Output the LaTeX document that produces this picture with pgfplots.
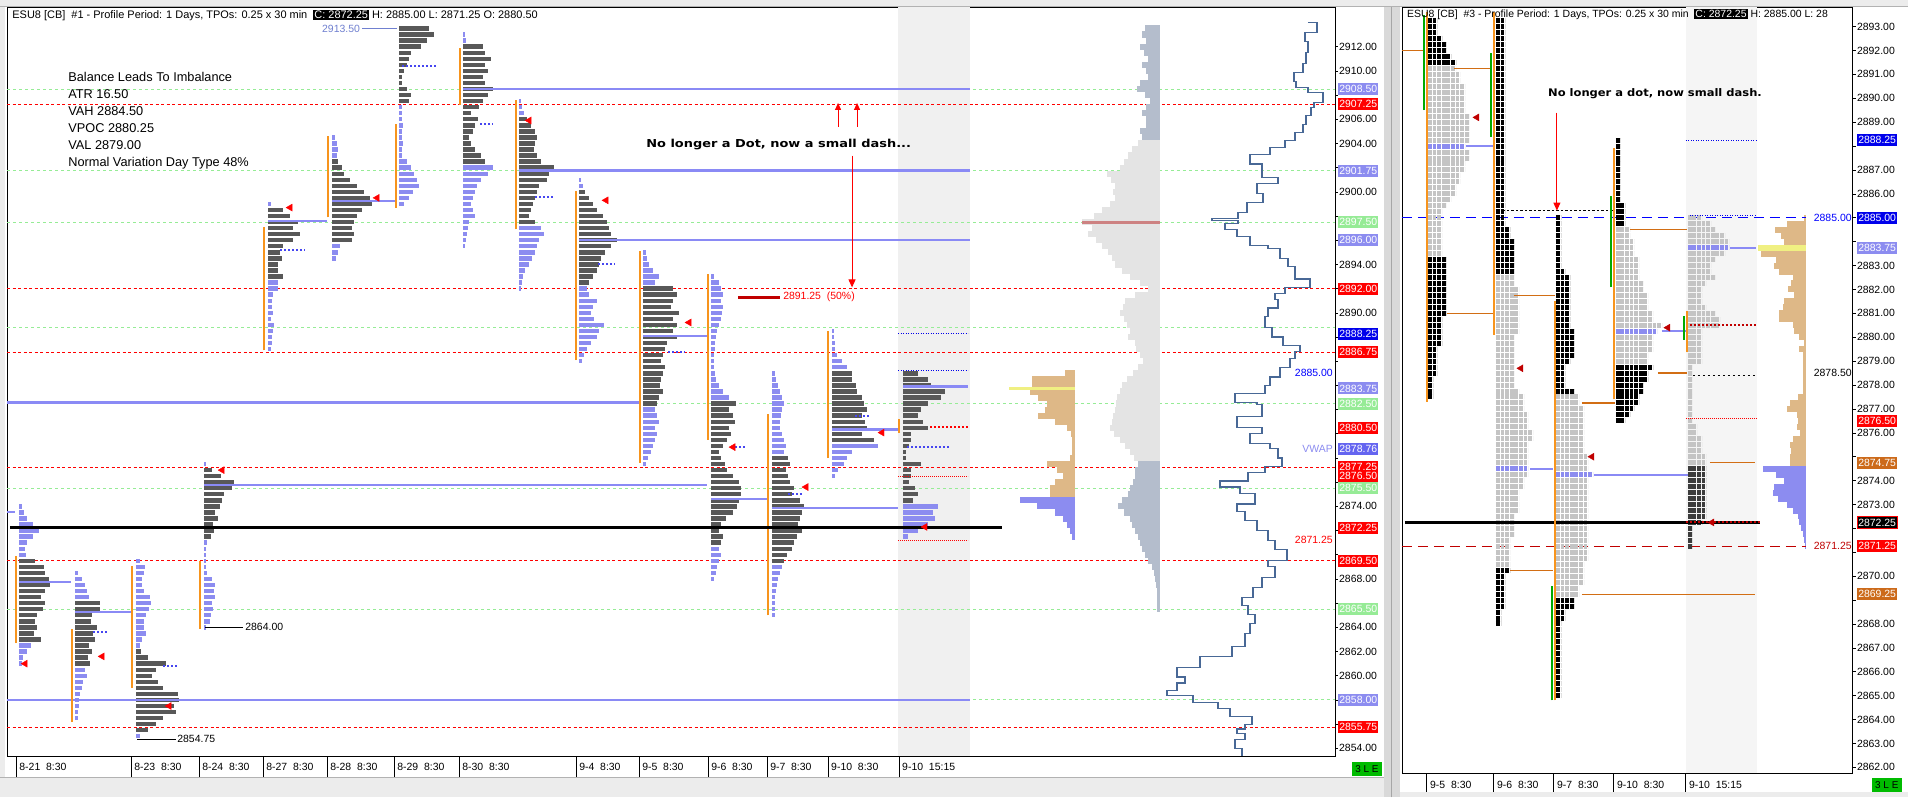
\documentclass[border=0pt]{standalone}
\usepackage{fontspec}
\setmainfont{Liberation Sans}
\newfontfamily\dvs{DejaVu Sans}
\usepackage{pgfplots}
\pgfplotsset{compat=1.18}
\usetikzlibrary{arrows.meta}

\definecolor{pgray}{RGB}{88,88,88}
\definecolor{pblue}{RGB}{140,140,240}
\definecolor{pocb}{RGB}{138,138,245}
\definecolor{dotb}{RGB}{70,70,240}
\definecolor{ibor}{RGB}{247,148,29}
\definecolor{lgreen}{RGB}{150,236,150}
\definecolor{band}{RGB}{240,240,240}
\definecolor{bandr}{RGB}{245,245,245}
\definecolor{compl}{RGB}{228,228,228}
\definecolor{compd}{RGB}{180,189,204}
\definecolor{ctan}{RGB}{222,184,135}
\definecolor{yel}{RGB}{240,240,130}
\definecolor{vwap}{RGB}{72,104,150}
\definecolor{dblue}{RGB}{0,0,235}
\definecolor{vwbox}{RGB}{100,100,240}
\definecolor{gbox}{RGB}{150,235,150}
\definecolor{brbox}{RGB}{204,106,26}
\definecolor{dred}{RGB}{192,0,0}
\definecolor{orl}{RGB}{210,110,20}
\definecolor{gbar}{RGB}{0,170,0}
\definecolor{win}{RGB}{236,236,236}
\definecolor{lbl}{RGB}{112,128,208}
\definecolor{compr}{RGB}{205,130,130}

\newcommand{\tl}{\fontsize{10.5}{12}\selectfont}
\newcommand{\hl}[4]{\addplot[#1] coordinates {(#2,#4) (#3,#4)};}
\newcommand{\vl}[4]{\addplot[#1] coordinates {(#2,#3) (#2,#4)};}
\newcommand{\lxt}[2]{\draw[black,line width=1bp] (axis cs:#1,2853.34) -- (axis cs:#1,2851.6);
  \node[anchor=west,font=\tl,inner sep=0pt,xshift=3bp] at (axis cs:#1,2852.43) {#2};}
\newcommand{\rxt}[2]{\draw[black,line width=1bp] (axis cs:#1,2861.75) -- (axis cs:#1,2860.95);
  \node[anchor=west,font=\tl,inner sep=0pt,xshift=3bp] at (axis cs:#1,2861.25) {#2};}

\tikzset{lbox/.style={anchor=west,inner xsep=1.2bp,inner ysep=0bp,minimum height=12bp,text=white,font=\tl}}

\pgfplotsset{
  lprof/.style={quiver={u=\thisrow{u},v=0,colored=mapped color,
      every arrow/.append style={line width=4.4bp}},
    point meta=\thisrow{c},point meta min=0,point meta max=1},
  rprof/.style={quiver={u=4.6*\thisrow{n},v=0,colored=mapped color,
      every arrow/.append style={line width=5bp,dash pattern=on 3.8bp off 0.8bp}},
    point meta=\thisrow{c},point meta min=0,point meta max=3},
  histL/.style={quiver={u=-\thisrow{w},v=0,
      every arrow/.append style={draw=#1,line width=6.2bp}}},
  histR/.style={quiver={u=-\thisrow{w},v=0,
      every arrow/.append style={draw=#1,line width=6.05bp}}},
  rdash/.style={red,line width=1bp,dash pattern=on 3bp off 2.5bp},
  gdash/.style={lgreen,line width=1bp,dash pattern=on 3bp off 3bp},
  poc/.style={pocb,line width=2.4bp},
  dotl/.style={dotb,line width=2bp,dash pattern=on 2bp off 2bp},
  ib/.style={ibor,line width=2.2bp},
}

\begin{document}
\begin{tikzpicture}[x=1bp,y=1bp]
\fill[win] (0,0) rectangle (1908,797);
\fill[white] (5,20) rectangle (1384,791);
\fill[white] (1400,5) rectangle (1908,791);
\fill[gray!30] (1384,0) rectangle (1400,797);
\draw[gray!70,line width=1bp] (1392,0) -- (1392,797);
\draw[gray!60] (0,20) -- (1384,20);
\node[fill=gbar!80!green,font=\fontsize{10}{12}\selectfont,inner sep=1.5bp,minimum width=30bp,minimum height=14bp] at (1367,28) {3 L E};
\node[fill=gbar!80!green,font=\fontsize{10}{12}\selectfont,inner sep=1.5bp,minimum width=30bp,minimum height=14bp] at (1887,12) {3 L E};

% ================= LEFT PANEL =================
\begin{axis}[
  at={(7bp,41bp)},anchor=south west,scale only axis,
  width=1328bp,height=749bp,
  xmin=7,xmax=1335,ymin=2853.34,ymax=2915.24,
  clip=false,
  axis line style={black,line width=0.8bp},
  xtick=\empty,
  ytick={2854,2856,...,2912},
  yticklabels={2854.00,,,2860.00,2862.00,2864.00,,2868.00,,,2874.00,,,,,,,,2890.00,,2894.00,,,2900.00,,2904.00,2906.00,,2910.00,2912.00},
  ytick pos=right,yticklabel pos=right,
  tick align=outside,major tick length=3bp,
  tick style={black,line width=0.6bp},
  yticklabel style={font=\tl,anchor=west,inner sep=1bp},
  colormap={lp}{rgb255=(88,88,88) rgb255=(140,140,240)},
]
\addplot[fill=band,draw=none] coordinates {(898,2853.34) (970,2853.34) (970,2915.24) (898,2915.24)} -- cycle;

% reference levels
\hl{rdash}{7}{1335}{2907.25}
\hl{rdash}{7}{1335}{2892}
\hl{rdash}{7}{1335}{2886.75}
\hl{rdash}{7}{1335}{2877.25}
\hl{rdash}{7}{1335}{2869.5}
\hl{rdash}{7}{1335}{2855.75}
\hl{gdash}{7}{1335}{2908.5}
\hl{gdash}{7}{1335}{2901.75}
\hl{gdash}{7}{1335}{2897.5}
\hl{gdash}{7}{1335}{2888.75}
\hl{gdash}{7}{1335}{2882.5}
\hl{gdash}{7}{1335}{2875.5}
\hl{gdash}{7}{1335}{2865.5}
\hl{gdash}{7}{1335}{2858}

% composite volume profile
\addplot[histL=compd] table[x expr=1160,y=p] {
p w
2913.5 15
2913 18
2912.5 14
2912 20
2911.5 16
2911 12
2910.5 18
2910 14
2909.5 12
2909 20
2908.5 23
2908 15
2907.5 10
2907 14
2906.5 18
2906 14
2905.5 14
2905 20
2904.5 18
};
\addplot[histL=compl] table[x expr=1160,y=p] {
p w
2904 22
2903.5 28
2903 32
2902.5 36
2902 40
2901.5 53
2901 49
2900.5 45
2900 47
2899.5 45
2899 50
2898.5 58
2898 66
2897.5 78
2897 68
2896.5 72
2896 64
2895.5 58
2895 52
2894.5 48
2894 45
2893.5 38
2893 30
2892.5 20
2892 12
2891.5 25
2891 35
2890.5 37
2890 40
2889.5 36
2889 33
2888.5 30
2888 32
2887.5 25
2887 24
2886.5 20
2886 17
2885.5 22
2885 27
2884.5 33
2884 38
2883.5 40
2883 43
2882.5 44
2882 45
2881.5 47
2881 48
2880.5 50
2880 46
2879.5 40
2879 35
2878.5 30
2878 26
};
\addplot[histL=compd] table[x expr=1160,y=p] {
p w
2877.5 22
2877 25
2876.5 25
2876 27
2875.5 30
2875 32
2874.5 38
2874 42
2873.5 36
2873 30
2872.5 28
2872 25
2871.5 22
2871 20
2870.5 18
2870 15
2869.5 12
2869 8
2868.5 6
2868 5
2867.5 4
2867 3
2866.5 3
2866 3
2865.5 3
};
\hl{compr,line width=3bp}{1082}{1160}{2897.5}

% tan / blue session volume
\addplot[histL=ctan] table[x expr=1075,y=p] {
p w
2885 10
2884.5 43
2884 43
2883.5 45
2883 37
2882.5 28
2882 30
2881.5 37
2881 20
2880.5 8
2880 4
2879.5 3
2879 3
2878.5 3
2878 5
2877.5 28
2877 18
2876.5 12
2876 20
2875.5 25
2875 25
};
\addplot[histL=pblue] table[x expr=1075,y=p] {
p w
2874.5 55
2874 38
2873.5 20
2873 12
2872.5 8
2872 5
2871.5 3
};
\hl{yel,line width=3.5bp}{1009}{1075}{2883.75}

% daily TPO profiles (0 = value area, 1 = outside)
\addplot[lprof] table[x expr=19,y=p] {
p u c
2874 3 1
2873.5 5 1
2873 8 1
2872.5 14 1
2872 20 1
2871.5 14 1
2871 8 1
2870.5 6 1
2870 7 1
2869.5 16 0
2869 25 0
2868.5 26 0
2868 30 0
2867.5 31 0
2867 26 0
2866.5 22 0
2866 26 0
2865.5 24 0
2865 18 0
2864.5 16 0
2864 18 0
2863.5 15 0
2863 22 0
2862.5 12 1
2862 8 1
2861.5 4 1
2861 3 1
};
\addplot[lprof] table[x expr=75,y=p] {
p u c
2868.5 3 1
2868 7 1
2867.5 10 1
2867 12 1
2866.5 14 1
2866 25 0
2865.5 25 0
2865 17 0
2864.5 16 0
2864 22 0
2863.5 18 0
2863 20 0
2862.5 14 0
2862 17 0
2861.5 13 0
2861 15 0
2860.5 10 1
2860 12 1
2859.5 8 1
2859 7 1
2858.5 5 1
2858 4 1
2857.5 4 1
2857 3 1
2856.5 3 1
};
\addplot[lprof] table[x expr=136,y=p] {
p u c
2869.5 4 1
2869 9 1
2868.5 8 1
2868 6 1
2867.5 6 1
2867 8 1
2866.5 14 1
2866 15 1
2865.5 13 1
2865 10 1
2864.5 8 1
2864 8 1
2863.5 10 1
2863 6 1
2862.5 4 1
2862 5 0
2861.5 12 0
2861 30 0
2860.5 20 0
2860 16 0
2859.5 22 0
2859 27 0
2858.5 42 0
2858 43 0
2857.5 38 0
2857 40 0
2856.5 27 0
2856 20 0
2855.5 12 0
2855 4 1
};
\addplot[lprof] table[x expr=204,y=p] {
p u c
2877.5 2 1
2877 8 0
2876.5 17 0
2876 30 0
2875.5 28 0
2875 20 0
2874.5 18 0
2874 16 0
2873.5 11 0
2873 14 0
2872.5 9 0
2872 10 0
2871.5 7 0
2871 3 1
2870.5 2 1
2870 2 1
2869.5 2 1
2869 2 1
2868.5 3 1
2868 8 1
2867.5 11 1
2867 10 1
2866.5 11 1
2866 8 1
2865.5 9 1
2865 7 1
2864.5 6 1
2864 2 1
};
\addplot[lprof] table[x expr=268,y=p] {
p u c
2899 3 1
2898.5 15 0
2898 22 0
2897.5 30 0
2897 25 0
2896.5 32 0
2896 25 0
2895.5 15 0
2895 12 0
2894.5 14 0
2894 10 0
2893.5 10 0
2893 15 0
2892.5 10 1
2892 10 1
2891.5 5 1
2891 4 1
2890.5 4 1
2890 5 1
2889.5 3 1
2889 6 1
2888.5 5 1
2888 4 1
2887.5 4 1
2887 3 1
};
\addplot[lprof] table[x expr=332,y=p] {
p u c
2904.5 3 1
2904 5 1
2903.5 6 1
2903 5 1
2902.5 6 0
2902 10 0
2901.5 12 0
2901 18 0
2900.5 25 0
2900 32 0
2899.5 38 0
2899 40 0
2898.5 30 0
2898 25 0
2897.5 22 0
2897 20 0
2896.5 22 0
2896 20 0
2895.5 8 1
2895 6 1
2894.5 4 1
};
\addplot[lprof] table[x expr=399,y=p] {
p u c
2913.5 30 0
2913 35 0
2912.5 28 0
2912 22 0
2911.5 12 0
2911 10 0
2910.5 8 0
2910 5 0
2909.5 3 0
2909 3 0
2908.5 8 0
2908 12 0
2907.5 10 0
2907 3 1
2906.5 3 1
2906 3 1
2905.5 4 1
2905 3 1
2904.5 3 1
2904 4 1
2903.5 3 1
2903 3 1
2902.5 8 1
2902 12 1
2901.5 15 1
2901 18 1
2900.5 20 1
2900 14 1
2899.5 10 1
2899 5 1
};
\addplot[lprof] table[x expr=463,y=p] {
p u c
2913 2 1
2912.5 3 1
2912 20 0
2911.5 22 0
2911 28 0
2910.5 22 0
2910 25 0
2909.5 20 0
2909 22 0
2908.5 30 0
2908 25 0
2907.5 20 0
2907 16 0
2906.5 8 0
2906 15 0
2905.5 12 0
2905 10 0
2904.5 6 0
2904 8 0
2903.5 12 0
2903 18 0
2902.5 22 0
2902 30 1
2901.5 25 1
2901 18 1
2900.5 14 1
2900 12 1
2899.5 10 1
2899 8 1
2898.5 10 1
2898 12 1
2897.5 6 1
2897 5 1
2896.5 4 1
2896 3 1
2895.5 2 1
};
\addplot[lprof] table[x expr=519,y=p] {
p u c
2907.5 2 1
2907 3 1
2906.5 5 1
2906 8 0
2905.5 12 0
2905 16 0
2904.5 18 0
2904 16 0
2903.5 15 0
2903 18 0
2902.5 22 0
2902 35 0
2901.5 30 0
2901 28 0
2900.5 20 0
2900 18 0
2899.5 16 0
2899 14 0
2898.5 12 0
2898 10 0
2897.5 16 0
2897 22 1
2896.5 25 1
2896 20 1
2895.5 18 1
2895 16 1
2894.5 13 1
2894 10 1
2893.5 6 1
2893 4 1
2892.5 3 1
2892 2 1
};
\addplot[lprof] table[x expr=579,y=p] {
p u c
2901 2 1
2900.5 4 1
2900 6 0
2899.5 10 0
2899 14 0
2898.5 18 0
2898 24 0
2897.5 28 0
2897 30 0
2896.5 32 0
2896 38 0
2895.5 32 0
2895 26 0
2894.5 22 0
2894 20 0
2893.5 18 0
2893 14 0
2892.5 10 0
2892 8 1
2891.5 10 1
2891 18 1
2890.5 14 1
2890 12 1
2889.5 15 1
2889 25 1
2888.5 20 1
2888 18 1
2887.5 12 1
2887 8 1
2886.5 5 1
2886 3 1
};
\addplot[lprof] table[x expr=643,y=p] {
p u c
2895 3 1
2894.5 4 1
2894 6 1
2893.5 10 1
2893 16 1
2892.5 12 1
2892 30 0
2891.5 34 0
2891 30 0
2890.5 28 0
2890 36 0
2889.5 30 0
2889 34 0
2888.5 30 0
2888 34 0
2887.5 24 0
2887 22 0
2886.5 20 0
2886 18 0
2885.5 22 0
2885 20 0
2884.5 18 0
2884 17 0
2883.5 20 0
2883 16 0
2882.5 14 0
2882 12 1
2881.5 14 1
2881 16 1
2880.5 12 1
2880 14 1
2879.5 12 1
2879 10 1
2878.5 8 1
2878 5 1
2877.5 3 1
};
\addplot[lprof] table[x expr=711,y=p] {
p u c
2893 3 1
2892.5 8 1
2892 10 1
2891.5 12 1
2891 10 1
2890.5 12 1
2890 11 1
2889.5 10 1
2889 8 1
2888.5 6 1
2888 5 1
2887.5 4 1
2887 4 1
2886.5 3 1
2886 3 1
2885.5 3 1
2885 4 1
2884.5 5 1
2884 8 1
2883.5 12 1
2883 18 1
2882.5 25 0
2882 18 0
2881.5 22 0
2881 24 0
2880.5 18 0
2880 20 0
2879.5 16 0
2879 12 0
2878.5 8 0
2878 10 0
2877.5 14 0
2877 16 0
2876.5 22 0
2876 28 0
2875.5 30 0
2875 30 0
2874.5 28 0
2874 26 0
2873.5 22 0
2873 15 0
2872.5 10 0
2872 8 0
2871.5 12 0
2871 10 0
2870.5 8 1
2870 10 1
2869.5 8 1
2869 6 1
2868.5 5 1
2868 3 1
};
\addplot[lprof] table[x expr=772,y=p] {
p u c
2885 3 1
2884.5 4 1
2884 6 1
2883.5 8 1
2883 10 1
2882.5 12 1
2882 10 1
2881.5 9 1
2881 8 1
2880.5 8 1
2880 10 1
2879.5 12 1
2879 14 1
2878.5 12 1
2878 16 0
2877.5 18 0
2877 14 0
2876.5 16 0
2876 18 0
2875.5 22 0
2875 20 0
2874.5 28 0
2874 32 0
2873.5 30 0
2873 28 0
2872.5 26 0
2872 30 0
2871.5 25 0
2871 22 0
2870.5 20 0
2870 15 0
2869.5 12 0
2869 10 1
2868.5 8 1
2868 6 1
2867.5 5 1
2867 4 1
2866.5 3 1
2866 3 1
2865.5 3 1
2865 3 1
};
\addplot[lprof] table[x expr=832,y=p] {
p u c
2888.5 2 1
2888 2 1
2887.5 3 1
2887 3 1
2886.5 5 1
2886 10 1
2885.5 15 1
2885 20 0
2884.5 20 0
2884 24 0
2883.5 25 0
2883 30 0
2882.5 32 0
2882 35 0
2881.5 30 0
2881 33 0
2880.5 35 0
2880 30 0
2879.5 42 0
2879 46 1
2878.5 20 1
2878 15 1
2877.5 12 1
2877 6 1
2876.5 3 1
};
\addplot[lprof] table[x expr=903,y=p] {
p u c
2885 15 0
2884.5 25 0
2884 28 0
2883.5 42 0
2883 38 0
2882.5 25 0
2882 18 0
2881.5 15 0
2881 20 0
2880.5 25 0
2880 8 0
2879.5 8 0
2879 6 0
2878.5 3 0
2878 3 0
2877.5 18 0
2877 8 0
2876.5 8 0
2876 6 0
2875.5 12 0
2875 15 0
2874.5 10 0
2874 35 1
2873.5 30 1
2873 32 1
2872.5 25 1
2872 15 1
2871.5 5 1
};

% POC lines
\hl{poc,line width=2bp}{7}{15}{2873.5}
\hl{poc}{19}{71}{2867.75}
\hl{poc}{75}{132}{2865.25}
\hl{poc}{7}{970}{2858}
\hl{poc}{204}{707}{2875.75}
\hl{poc}{268}{327}{2897.6}
\hl{poc}{332}{395}{2899.25}
\hl{poc}{463}{970}{2908.5}
\hl{poc}{519}{970}{2901.75}
\hl{poc}{579}{970}{2896}
\hl{poc}{643}{707}{2888.1}
\hl{poc}{7}{640}{2882.6}
\hl{poc}{711}{767}{2874.6}
\hl{poc}{772}{898}{2873.85}
\hl{poc}{832}{898}{2880.35}
\hl{poc}{903}{968}{2883.9}

% initial balance bars
\vl{ib}{16}{2862.7}{2869.9}
\vl{ib}{72}{2856.2}{2863.9}
\vl{ib}{132}{2859}{2869.1}
\vl{ib}{200}{2863.9}{2869.5}
\vl{ib}{264}{2886.9}{2897.1}
\vl{ib}{328}{2897.9}{2904.6}
\vl{ib}{396}{2898.7}{2905.6}
\vl{ib}{460}{2907.2}{2911.9}
\vl{ib}{516}{2896.9}{2907.6}
\vl{ib}{576}{2886.1}{2900.1}
\vl{ib}{640}{2877.6}{2895.1}
\vl{ib}{708}{2879.5}{2893.2}
\vl{ib}{768}{2865}{2881.6}
\vl{ib}{828}{2878}{2888.5}
\vl{ib}{899}{2880.1}{2881.2}

% dotted markers
\hl{dotl}{93}{108}{2863.6}
\hl{dotl}{163}{177}{2860.8}
\hl{dotl}{214}{240}{2872.2}
\hl{dotl}{280}{305}{2895.2}
\hl{dotl}{402}{437}{2910.4}
\hl{dotl}{480}{493}{2905.6}
\hl{dotl}{535}{553}{2899.6}
\hl{dotl}{598}{615}{2894}
\hl{dotl}{668}{685}{2886.8}
\hl{dotl}{735}{745}{2878.9}
\hl{dotl}{788}{803}{2875}
\hl{dotl}{855}{870}{2881.5}
\hl{dotl}{907}{950}{2878.9}
\hl{dblue,line width=1bp,dash pattern=on 1bp off 1.5bp}{898}{968}{2888.3}
\hl{dblue,line width=1bp,dash pattern=on 1bp off 1.5bp}{898}{968}{2885.2}
\hl{red,line width=2bp,dash pattern=on 2bp off 2bp}{930}{968}{2880.55}
\hl{red,line width=0.8bp,dash pattern=on 1bp off 1bp}{898}{968}{2876.5}
\hl{red,line width=0.8bp,dash pattern=on 1bp off 1bp}{898}{968}{2871.2}

% close
\hl{black,line width=2.2bp}{10}{1002}{2872.25}

% VWAP path
\addplot[const plot,vwap,line width=1.1bp] coordinates {
(1308,2914.0) (1317,2913.2) (1305,2912.4) (1308,2911.5) (1306,2910.6)
(1303,2909.9) (1294,2909.1) (1296,2908.65) (1308,2908.2) (1323,2907.4)
(1314,2907.0) (1311,2906.3) (1306,2905.6) (1303,2904.9) (1295,2904.25)
(1285,2903.7) (1270,2903.1) (1250,2902.3) (1262,2901.8) (1262,2901.2)
(1278,2900.7) (1257,2899.9) (1263,2899.1) (1247,2898.3) (1238,2897.8)
(1212,2897.6) (1238,2897.4) (1225,2896.9) (1237,2896.3) (1250,2895.6)
(1268,2895.3) (1280,2894.5) (1288,2893.8) (1295,2892.8) (1310,2892.1)
(1285,2891.6) (1275,2891.1) (1278,2890.4) (1268,2889.7) (1265,2888.8)
(1272,2888.0) (1283,2887.3) (1300,2886.8) (1295,2886.2) (1290,2885.5)
(1280,2884.7) (1270,2884.0) (1265,2883.3) (1235,2882.6) (1257,2882.4)
(1262,2881.4) (1237,2880.5) (1262,2880.0) (1250,2879.2) (1270,2878.8)
(1278,2878.0) (1282,2877.3) (1265,2876.8) (1248,2876.1) (1220,2875.6)
(1240,2875.1) (1255,2874.2) (1237,2873.6) (1245,2872.8) (1257,2872.0)
(1268,2871.2) (1275,2870.4) (1287,2869.5) (1268,2869.0) (1275,2868.1)
(1262,2867.3) (1253,2866.5) (1242,2865.8) (1248,2865.1) (1255,2864.3)
(1250,2863.5) (1245,2862.4) (1232,2861.6) (1200,2860.7) (1177,2859.9)
(1185,2859.4) (1177,2858.8) (1167,2858.4) (1193,2857.8) (1218,2857.3)
(1230,2856.6) (1252,2856.0) (1245,2855.6) (1237,2855.2) (1245,2854.7)
(1235,2854.0) (1242,2853.4)
};

% single-print markers
\addplot[only marks,mark=triangle*,mark size=4bp,mark options={rotate=90,fill=red,draw=red}] coordinates {
(25,2861) (102,2861.6) (169,2857.5) (222,2877) (290,2898.7) (377,2899.5)
(529,2905.9) (606,2899.3) (689,2889.2) (733,2878.9) (806,2875.6) (882,2880.1) (925,2872.3)};

% annotations
\hl{dred,line width=3bp}{738}{780}{2891.3}
\node[anchor=west,text=red,font=\tl,inner sep=0pt] at (axis cs:783,2891.3) {2891.25\ \ (50\%)};
\node[anchor=west,font={\dvs\bfseries\fontsize{11}{13}\selectfont},inner sep=0pt,xscale=1.18] at (axis cs:646,2903.9) {No longer a Dot, now a small dash...};
\draw[red,line width=1bp,-{Triangle[length=8bp,width=7bp]}] (axis cs:852,2903) -- (axis cs:852,2892.1);
\draw[red,line width=1bp,-{Triangle[length=7bp,width=6bp]}] (axis cs:838,2905.4) -- (axis cs:838,2907.35);
\draw[red,line width=1bp,-{Triangle[length=7bp,width=6bp]}] (axis cs:857,2905.4) -- (axis cs:857,2907.35);
\node[anchor=north west,align=left,font=\fontsize{12.8}{17}\selectfont,inner sep=0pt] at (axis cs:68,2909.9)
  {Balance Leads To Imbalance\\ATR 16.50\\VAH 2884.50\\VPOC 2880.25\\VAL 2879.00\\Normal Variation Day Type 48\%};
\node[anchor=west,font=\fontsize{11}{13}\selectfont,inner sep=0pt] at (axis cs:12,2914.6)
  {ESU8 [CB]\ \ \#1 - Profile Period: 1 Days, TPOs: 0.25 x 30 min\ \ {\fboxsep=1bp\colorbox{black}{\textcolor{white}{C: 2872.25}}} H: 2885.00 L: 2871.25 O: 2880.50};
\draw[lbl,line width=0.8bp] (axis cs:362,2913.5) -- (axis cs:397,2913.5);
\node[anchor=east,text=lbl,font=\tl,inner sep=0pt] at (axis cs:360,2913.5) {2913.50};
\draw[black,line width=0.8bp] (axis cs:205,2864) -- (axis cs:243,2864);
\node[anchor=west,font=\tl,inner sep=0pt] at (axis cs:245,2864) {2864.00};
\draw[black,line width=0.8bp] (axis cs:137,2854.75) -- (axis cs:176,2854.75);
\node[anchor=west,font=\tl,inner sep=0pt] at (axis cs:177,2854.75) {2854.75};
\node[anchor=east,text=blue,font=\tl,inner sep=0pt] at (axis cs:1333,2885) {2885.00};
\node[anchor=east,text=pblue,font=\tl,inner sep=0pt] at (axis cs:1333,2878.76) {VWAP};
\node[anchor=east,text=red,font=\tl,inner sep=0pt] at (axis cs:1333,2871.25) {2871.25};

% price boxes on the scale
\node[lbox,fill=pblue] at (axis cs:1338,2908.5) {2908.50};
\node[lbox,fill=red] at (axis cs:1338,2907.25) {2907.25};
\node[lbox,fill=pblue] at (axis cs:1338,2901.75) {2901.75};
\node[lbox,fill=gbox] at (axis cs:1338,2897.5) {2897.50};
\node[lbox,fill=pblue] at (axis cs:1338,2896) {2896.00};
\node[lbox,fill=red] at (axis cs:1338,2892) {2892.00};
\node[lbox,fill=dblue] at (axis cs:1338,2888.25) {2888.25};
\node[lbox,fill=red] at (axis cs:1338,2886.75) {2886.75};
\node[lbox,fill=pblue] at (axis cs:1338,2883.75) {2883.75};
\node[lbox,fill=gbox] at (axis cs:1338,2882.5) {2882.50};
\node[lbox,fill=red] at (axis cs:1338,2880.5) {2880.50};
\node[lbox,fill=vwbox] at (axis cs:1338,2878.76) {2878.76};
\node[lbox,fill=red] at (axis cs:1338,2877.25) {2877.25};
\node[lbox,fill=red] at (axis cs:1338,2876.5) {2876.50};
\node[lbox,fill=gbox] at (axis cs:1338,2875.5) {2875.50};
\node[lbox,fill=red] at (axis cs:1338,2872.25) {2872.25};
\node[lbox,fill=red] at (axis cs:1338,2869.5) {2869.50};
\node[lbox,fill=gbox] at (axis cs:1338,2865.5) {2865.50};
\node[lbox,fill=pblue] at (axis cs:1338,2858) {2858.00};
\node[lbox,fill=red] at (axis cs:1338,2855.75) {2855.75};

% time scale
\lxt{16}{8-21\ \ 8:30}
\lxt{131}{8-23\ \ 8:30}
\lxt{199}{8-24\ \ 8:30}
\lxt{263}{8-27\ \ 8:30}
\lxt{327}{8-28\ \ 8:30}
\lxt{394}{8-29\ \ 8:30}
\lxt{459}{8-30\ \ 8:30}
\lxt{576}{9-4\ \ 8:30}
\lxt{639}{9-5\ \ 8:30}
\lxt{708}{9-6\ \ 8:30}
\lxt{767}{9-7\ \ 8:30}
\lxt{828}{9-10\ \ 8:30}
\lxt{899}{9-10\ \ 15:15}
\end{axis}

% ================= RIGHT PANEL =================
\begin{axis}[
  at={(1402bp,24bp)},anchor=south west,scale only axis,
  width=451bp,height=766bp,
  xmin=1402,xmax=1853,ymin=2861.75,ymax=2893.8,
  clip=false,
  axis line style={black,line width=0.8bp},
  xtick=\empty,
  ytick={2862,2863,...,2893},
  yticklabels={2862.00,2863.00,2864.00,2865.00,2866.00,2867.00,2868.00,,2870.00,,,2873.00,2874.00,,2876.00,2877.00,2878.00,2879.00,2880.00,2881.00,2882.00,2883.00,,,2886.00,2887.00,,2889.00,2890.00,2891.00,2892.00,2893.00},
  ytick pos=right,yticklabel pos=right,
  tick align=outside,major tick length=3bp,
  tick style={black,line width=0.6bp},
  yticklabel style={font=\tl,anchor=west,inner sep=1bp},
  colormap={rp}{rgb255=(0,0,0) rgb255=(196,196,196) rgb255=(140,140,240) rgb255=(60,60,60)},
]
\addplot[fill=bandr,draw=none] coordinates {(1686,2861.75) (1757,2861.75) (1757,2893.8) (1686,2893.8)} -- cycle;

% tan / blue session volume
\addplot[histR=ctan] table[x expr=1806,y=p] {
p w
2885 2
2884.75 19
2884.5 31
2884.25 25
2884 22
2883.75 45
2883.5 45
2883.25 30
2883 32
2882.75 27
2882.5 13
2882.25 15
2882 18
2881.75 12
2881.5 22
2881.25 23
2881 27
2880.75 27
2880.5 13
2880.25 12
2880 7
2879.75 2
2879.5 7
2879.25 3
2879 3
2878.75 3
2878.5 3
2878.25 3
2878 3
2877.75 3
2877.5 8
2877.25 16
2877 19
2876.75 9
2876.5 8
2876.25 9
2876 6
2875.75 13
2875.5 16
2875.25 15
2875 16
2874.75 16
};
\addplot[histR=pblue] table[x expr=1806,y=p] {
p w
2874.5 43
2874.25 30
2874 22
2873.75 32
2873.5 33
2873.25 28
2873 19
2872.75 13
2872.5 8
2872.25 7
2872 5
2871.75 3
2871.5 2
2871.25 1
};
\hl{yel,line width=6bp}{1758}{1806}{2883.75}

% long dashed levels
\hl{blue,line width=1.2bp,dash pattern=on 10bp off 6bp}{1402}{1806}{2885}
\hl{dred,line width=1.2bp,dash pattern=on 10bp off 6bp}{1402}{1806}{2871.25}
\hl{black,line width=0.8bp,dash pattern=on 2.5bp off 2bp}{1498}{1613}{2885.3}

% TPO profiles (0 black, 1 grey, 2 poc, 3 dark)
\addplot[rprof] table[x expr=1428,y=p] {
p n c
2893.25 2 0
2893 2 0
2892.75 2 0
2892.5 3 0
2892.25 4 0
2892 4 0
2891.75 5 0
2891.5 6 0
2891.25 6 1
2891 7 1
2890.75 7 1
2890.5 8 1
2890.25 8 1
2890 8 1
2889.75 8 1
2889.5 8 1
2889.25 9 1
2889 9 1
2888.75 9 1
2888.5 9 1
2888.25 9 1
2888 8 2
2887.75 9 1
2887.5 9 1
2887.25 8 1
2887 8 1
2886.75 7 1
2886.5 7 1
2886.25 6 1
2886 6 1
2885.75 5 1
2885.5 4 1
2885.25 3 1
2885 3 1
2884.75 3 1
2884.5 3 1
2884.25 3 1
2884 3 1
2883.75 3 1
2883.5 3 1
2883.25 4 0
2883 4 0
2882.75 4 0
2882.5 4 0
2882.25 4 0
2882 4 0
2881.75 4 0
2881.5 4 0
2881.25 4 0
2881 4 0
2880.75 3 0
2880.5 3 0
2880.25 3 0
2880 3 0
2879.75 3 0
2879.5 2 0
2879.25 2 0
2879 2 0
2878.75 2 0
2878.5 2 0
2878.25 1 0
2878 1 0
2877.75 1 0
2877.5 1 0
};
\addplot[rprof] table[x expr=1496,y=p] {
p n c
2893.25 2 0
2893 2 0
2892.75 2 0
2892.5 2 0
2892.25 2 0
2892 2 0
2891.75 2 0
2891.5 2 0
2891.25 2 0
2891 2 0
2890.75 2 0
2890.5 2 0
2890.25 2 0
2890 2 0
2889.75 2 0
2889.5 2 0
2889.25 2 0
2889 2 0
2888.75 2 0
2888.5 2 0
2888.25 2 0
2888 2 0
2887.75 2 0
2887.5 2 0
2887.25 2 0
2887 2 0
2886.75 2 0
2886.5 2 0
2886.25 2 0
2886 2 0
2885.75 2 0
2885.5 2 0
2885.25 2 0
2885 2 0
2884.75 2 0
2884.5 3 0
2884.25 3 0
2884 4 0
2883.75 4 0
2883.5 4 0
2883.25 4 0
2883 4 0
2882.75 4 0
2882.5 4 1
2882.25 4 1
2882 5 1
2881.75 5 1
2881.5 5 1
2881.25 5 1
2881 5 1
2880.75 5 1
2880.5 5 1
2880.25 5 1
2880 4 1
2879.75 4 1
2879.5 4 1
2879.25 4 1
2879 4 1
2878.75 4 1
2878.5 4 1
2878.25 4 1
2878 4 1
2877.75 5 1
2877.5 6 1
2877.25 6 1
2877 6 1
2876.75 7 1
2876.5 7 1
2876.25 7 1
2876 8 1
2875.75 8 1
2875.5 7 1
2875.25 7 1
2875 7 1
2874.75 7 1
2874.5 7 2
2874.25 7 1
2874 6 1
2873.75 6 1
2873.5 5 1
2873.25 5 1
2873 5 1
2872.75 5 1
2872.5 4 1
2872.25 4 1
2872 4 1
2871.75 4 1
2871.5 3 1
2871.25 3 1
2871 3 1
2870.75 3 1
2870.5 3 1
2870.25 3 0
2870 2 0
2869.75 2 0
2869.5 2 0
2869.25 2 0
2869 2 0
2868.75 2 0
2868.5 1 0
2868.25 1 0
2868 1 0
};
\addplot[rprof] table[x expr=1556,y=p] {
p n c
2885 1 0
2884.75 1 0
2884.5 1 0
2884.25 1 0
2884 1 0
2883.75 1 0
2883.5 1 0
2883.25 1 0
2883 1 0
2882.75 2 0
2882.5 3 0
2882.25 3 0
2882 3 0
2881.75 3 0
2881.5 3 0
2881.25 3 0
2881 3 0
2880.75 3 0
2880.5 3 0
2880.25 4 0
2880 4 0
2879.75 4 0
2879.5 4 0
2879.25 4 0
2879 3 0
2878.75 2 0
2878.5 2 0
2878.25 2 0
2878 2 0
2877.75 4 0
2877.5 5 1
2877.25 5 1
2877 6 1
2876.75 6 1
2876.5 6 1
2876.25 6 1
2876 6 1
2875.75 6 1
2875.5 6 1
2875.25 6 1
2875 7 1
2874.75 7 1
2874.5 7 1
2874.25 8 2
2874 7 1
2873.75 7 1
2873.5 7 1
2873.25 7 1
2873 7 1
2872.75 7 1
2872.5 7 1
2872.25 7 1
2872 7 1
2871.75 7 1
2871.5 7 1
2871.25 7 1
2871 7 1
2870.75 7 1
2870.5 6 1
2870.25 6 1
2870 6 1
2869.75 6 1
2869.5 5 1
2869.25 5 1
2869 4 0
2868.75 4 0
2868.5 2 0
2868.25 2 0
2868 1 0
2867.75 1 0
2867.5 1 0
2867.25 1 0
2867 1 0
2866.75 1 0
2866.5 1 0
2866.25 1 0
2866 1 0
2865.75 1 0
2865.5 1 0
2865.25 1 0
2865 1 0
};
\addplot[rprof] table[x expr=1616,y=p] {
p n c
2888.25 1 0
2888 1 0
2887.75 1 0
2887.5 1 0
2887.25 1 0
2887 1 0
2886.75 1 0
2886.5 1 0
2886.25 1 0
2886 1 0
2885.75 1 0
2885.5 2 0
2885.25 2 0
2885 2 0
2884.75 2 0
2884.5 3 1
2884.25 3 1
2884 4 1
2883.75 4 1
2883.5 4 1
2883.25 5 1
2883 5 1
2882.75 5 1
2882.5 5 1
2882.25 6 1
2882 6 1
2881.75 7 1
2881.5 7 1
2881.25 7 1
2881 8 1
2880.75 8 1
2880.5 10 1
2880.25 9 2
2880 8 1
2879.75 8 1
2879.5 8 1
2879.25 7 1
2879 7 1
2878.75 8 0
2878.5 7 0
2878.25 7 0
2878 6 0
2877.75 6 0
2877.5 5 0
2877.25 5 0
2877 4 0
2876.75 3 0
2876.5 2 0
};
\addplot[rprof] table[x expr=1688,y=p] {
p n c
2885 3 1
2884.75 5 1
2884.5 6 1
2884.25 8 1
2884 9 1
2883.75 9 2
2883.5 8 1
2883.25 6 1
2883 5 1
2882.75 5 1
2882.5 6 1
2882.25 4 1
2882 3 1
2881.75 3 1
2881.5 3 1
2881.25 4 1
2881 6 1
2880.75 7 1
2880.5 7 1
2880.25 3 1
2880 3 1
2879.75 3 1
2879.5 3 1
2879.25 3 1
2879 3 1
2878.75 1 1
2878.5 1 1
2878.25 1 1
2878 1 1
2877.75 1 1
2877.5 1 1
2877.25 1 1
2877 1 1
2876.75 1 1
2876.5 1 1
2876.25 2 1
2876 2 1
2875.75 3 1
2875.5 3 1
2875.25 3 1
2875 4 1
2874.75 4 1
2874.5 4 3
2874.25 4 3
2874 4 3
2873.75 4 3
2873.5 4 3
2873.25 4 3
2873 4 3
2872.75 4 3
2872.5 4 3
2872.25 3 3
2872 1 3
2871.75 1 3
2871.5 1 3
2871.25 1 3
};

% orange reference segments
\hl{orl,line width=1.2bp}{1402}{1423}{2892}
\hl{orl,line width=1.2bp}{1454}{1492}{2891.25}
\hl{orl,line width=1.2bp}{1447}{1494}{2881}
\hl{orl,line width=1.2bp}{1514}{1555}{2881.75}
\hl{orl,line width=1.2bp}{1510}{1553}{2870.25}
\hl{orl,line width=1.2bp}{1582}{1615}{2877.25}
\hl{orl,line width=1.2bp}{1582}{1755}{2869.25}
\hl{orl,line width=1.2bp}{1630}{1687}{2884.5}
\hl{orl,line width=1.2bp}{1658}{1687}{2878.5}
\hl{orl,line width=1.2bp}{1710}{1755}{2874.75}

% POC extensions
\hl{poc,line width=2bp}{1466}{1494}{2888}
\hl{poc,line width=2bp}{1530}{1553}{2874.5}
\hl{poc,line width=2bp}{1594}{1688}{2874.25}
\hl{poc,line width=2bp}{1662}{1686}{2880.25}
\hl{poc,line width=2bp}{1730}{1756}{2883.75}

% in-band markers
\hl{dblue,line width=1bp,dash pattern=on 1bp off 1.5bp}{1686}{1757}{2888.25}
\hl{dblue,line width=1bp,dash pattern=on 1bp off 1.5bp}{1690}{1757}{2885.1}
\hl{dred,line width=2bp,dash pattern=on 2bp off 2bp}{1690}{1757}{2880.5}
\hl{black,line width=0.8bp,dash pattern=on 2.5bp off 2.5bp}{1693}{1755}{2878.4}
\hl{red,line width=0.8bp,dash pattern=on 1bp off 1bp}{1686}{1757}{2876.6}

% close
\hl{black,line width=2.2bp}{1405}{1760}{2872.25}
\hl{dred,line width=2bp,dash pattern=on 2bp off 2bp}{1686}{1760}{2872.25}

% IB and opening range bars
\vl{ib}{1427}{2877.3}{2893.6}
\vl{gbar,line width=2bp}{1424}{2889.5}{2893.5}
\vl{ib}{1494}{2880.1}{2893.6}
\vl{gbar,line width=2bp}{1491}{2888.4}{2891.9}
\vl{ib}{1555}{2864.8}{2881.5}
\vl{gbar,line width=2bp}{1552}{2864.8}{2869.6}
\vl{ib}{1614}{2877.4}{2887.9}
\vl{gbar,line width=2bp}{1611}{2882.1}{2885.9}
\vl{ib}{1687}{2879.4}{2881.1}
\vl{gbar,line width=2bp}{1684}{2879.9}{2880.9}

\addplot[only marks,mark=triangle*,mark size=4bp,mark options={rotate=90,fill=dred,draw=dred}] coordinates {
(1477,2889.2) (1521,2878.7) (1592,2875) (1668,2880.4) (1712,2872.25)};

% annotations
\node[anchor=west,font={\dvs\bfseries\fontsize{10.5}{12}\selectfont},inner sep=0pt,xscale=1.1] at (axis cs:1548,2890.2) {No longer a dot, now small dash.};
\draw[red,line width=1bp,-{Triangle[length=8bp,width=7bp]}] (axis cs:1557,2889.4) -- (axis cs:1557,2885.3);
\node[anchor=west,font=\tl,inner sep=0pt] at (axis cs:1407,2893.5)
  {ESU8 [CB]\ \ \#3 - Profile Period: 1 Days, TPOs: 0.25 x 30 min\ \ {\fboxsep=1bp\colorbox{black}{\textcolor{white}{C: 2872.25}}} H: 2885.00 L: 28};
\node[anchor=east,text=blue,font=\tl,inner sep=0pt] at (axis cs:1852,2885) {2885.00};
\node[anchor=east,text=dred,font=\tl,inner sep=0pt] at (axis cs:1852,2871.25) {2871.25};
\node[anchor=east,font=\tl,inner sep=0pt] at (axis cs:1852,2878.5) {2878.50};

\node[lbox,fill=dblue] at (axis cs:1857,2888.25) {2888.25};
\node[lbox,fill=dblue] at (axis cs:1857,2885) {2885.00};
\node[lbox,fill=pblue] at (axis cs:1857,2883.75) {2883.75};
\node[lbox,fill=red] at (axis cs:1857,2876.5) {2876.50};
\node[lbox,fill=brbox] at (axis cs:1857,2874.75) {2874.75};
\node[lbox,fill=black,draw=red] at (axis cs:1857,2872.25) {2872.25};
\node[lbox,fill=red] at (axis cs:1857,2871.25) {2871.25};
\node[lbox,fill=brbox] at (axis cs:1857,2869.25) {2869.25};

\rxt{1427}{9-5\ \ 8:30}
\rxt{1494}{9-6\ \ 8:30}
\rxt{1554}{9-7\ \ 8:30}
\rxt{1614}{9-10\ \ 8:30}
\rxt{1686}{9-10\ \ 15:15}
\end{axis}
\fill[win] (0,791) rectangle (1908,797);
\draw[gray!60] (0,791) -- (1908,791);
\end{tikzpicture}
\end{document}
